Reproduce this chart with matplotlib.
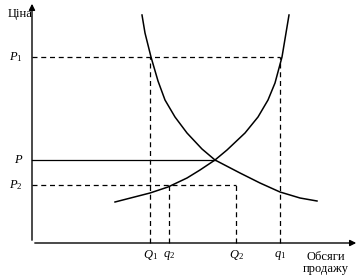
import matplotlib.pyplot as plt

# economic units: x = quantity, y = price (origin at the axes corner)
demand_q = [110, 113, 119, 126, 133, 143, 155, 170, 183, 208, 228, 248, 268, 285]
demand_p = [228, 210, 186, 162, 143, 126, 110, 94, 83, 70, 60, 51, 45, 42]
supply_q = [83, 118, 136, 155, 168, 183, 195, 213, 226, 236, 243, 250, 257]
supply_p = [41, 50, 56, 65, 73, 83, 93, 110, 126, 143, 160, 186, 228]

prices = {"P_1": 186, "P": 83, "P_2": 58}
quantities = {"Q_1": 118, "q_2": 137, "Q_2": 204, "q_1": 248}

plt.rcParams['font.family'] = ['Liberation Serif', 'DejaVu Serif']
plt.rcParams['mathtext.fontset'] = 'custom'
plt.rcParams['mathtext.it'] = 'Liberation Serif:italic'
plt.rcParams['mathtext.rm'] = 'Liberation Serif'

fig = plt.figure(figsize=(3.59, 2.78), dpi=100)
ax = fig.add_axes([0, 0, 1, 1])
ax.set_xlim(-32, 327)
ax.set_ylim(-35, 243)
ax.axis('off')

lw = 0.9
ax.annotate('', xy=(0, 242), xytext=(0, 0),
            arrowprops=dict(arrowstyle='-|>', lw=1.0, color='black', mutation_scale=9))
ax.annotate('', xy=(327, 0), xytext=(0, 0),
            arrowprops=dict(arrowstyle='-|>', lw=1.0, color='black', mutation_scale=9))

ax.plot(demand_q, demand_p, color='black', lw=1.1, solid_joinstyle='round')
ax.plot(supply_q, supply_p, color='black', lw=1.1, solid_joinstyle='round')

dash = (0, (4, 3))
# horizontal guides
ax.plot([0, quantities["q_1"]], [prices["P_1"]] * 2, color='black', lw=lw, linestyle=dash)
ax.plot([0, 183], [prices["P"]] * 2, color='black', lw=lw)
ax.plot([0, quantities["Q_2"]], [prices["P_2"]] * 2, color='black', lw=lw, linestyle=dash)
# vertical guides
ax.plot([quantities["Q_1"]] * 2, [0, prices["P_1"]], color='black', lw=lw, linestyle=dash)
ax.plot([quantities["q_1"]] * 2, [0, prices["P_1"]], color='black', lw=lw, linestyle=dash)
ax.plot([quantities["q_2"]] * 2, [0, prices["P_2"]], color='black', lw=lw, linestyle=dash)
ax.plot([quantities["Q_2"]] * 2, [0, prices["P_2"]], color='black', lw=lw, linestyle=dash)

for name, p in prices.items():
    ax.text(-9, p, f'${name}$', ha='right', va='center', fontsize=9)
for name, q in quantities.items():
    ax.text(q, -12, f'${name}$', ha='center', va='center', fontsize=9)

ax.text(-24, 229, 'Ціна', ha='left', va='center', fontsize=9)
ax.text(294, -20, 'Обсяги\nпродажу', ha='center', va='center', fontsize=9, linespacing=0.9)

fig.savefig('out.png', dpi=100)
